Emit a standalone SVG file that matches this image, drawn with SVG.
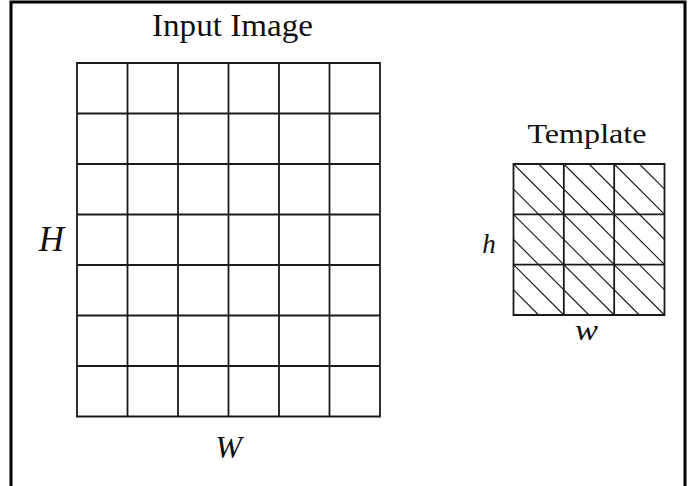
<svg xmlns="http://www.w3.org/2000/svg" width="689" height="486" viewBox="0 0 689 486">
<style>
.grid{fill:none;stroke:#1a1a1a;stroke-width:1.8}
.hatch{stroke:#1a1a1a;stroke-width:1.1}
.t{font-family:"Liberation Serif","Times New Roman",serif;fill:#111}
.m{font-family:"Liberation Serif","Times New Roman",serif;font-style:italic;fill:#111}
</style>
<rect width="689" height="486" fill="#fff"/>
<path d="M11,486 V2 H685 V486" fill="none" stroke="#000" stroke-width="3"/>
<g id="input-image">
<text class="t" x="232.5" y="36" font-size="32" text-anchor="middle" textLength="161" lengthAdjust="spacingAndGlyphs">Input Image</text>
<path class="grid" d="M77,63 H380 V416.5 H77 Z M127.5,63 V416.5 M178,63 V416.5 M228.5,63 V416.5 M279,63 V416.5 M329.5,63 V416.5 M77,113.5 H380 M77,164 H380 M77,214.5 H380 M77,265 H380 M77,315.5 H380 M77,366 H380"/>
<text class="m" x="51.5" y="251" font-size="35" text-anchor="middle">H</text>
<text class="m" x="228.5" y="458" font-size="32" text-anchor="middle">W</text>
</g>
<g id="template">
<text class="t" x="587" y="142.5" font-size="27" text-anchor="middle" textLength="119" lengthAdjust="spacingAndGlyphs">Template</text>
<g class="hatch">
<line x1="513.5" y1="164" x2="664.5" y2="315"/>
<line x1="538.67" y1="164" x2="664.5" y2="289.83"/>
<line x1="563.83" y1="164" x2="664.5" y2="264.67"/>
<line x1="589" y1="164" x2="664.5" y2="239.5"/>
<line x1="614.17" y1="164" x2="664.5" y2="214.33"/>
<line x1="639.33" y1="164" x2="664.5" y2="189.17"/>
<line x1="513.5" y1="189.17" x2="639.33" y2="315"/>
<line x1="513.5" y1="214.33" x2="614.17" y2="315"/>
<line x1="513.5" y1="239.5" x2="589" y2="315"/>
<line x1="513.5" y1="264.67" x2="563.83" y2="315"/>
<line x1="513.5" y1="289.83" x2="538.67" y2="315"/>
</g>
<path class="grid" d="M513.5,164 H664.5 V315 H513.5 Z M563.83,164 V315 M614.17,164 V315 M513.5,214.33 H664.5 M513.5,264.67 H664.5"/>
<text class="m" x="489" y="252.5" font-size="27" text-anchor="middle">h</text>
<text class="m" x="586.5" y="340" font-size="30" text-anchor="middle" textLength="23" lengthAdjust="spacingAndGlyphs">w</text>
</g>
</svg>
